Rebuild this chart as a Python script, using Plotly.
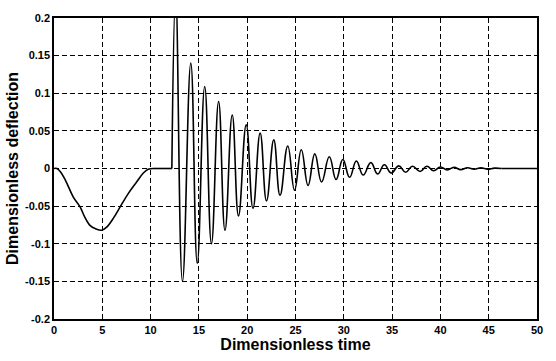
import plotly.graph_objects as go

# ---- data ----
# slow dip (0 .. 10.3)
t_dip = [0, 0.3, 0.7, 1.2, 2.0, 2.7, 3.2, 3.75, 4.3, 4.95, 5.45, 6.15, 6.85, 7.7, 8.55, 9.25, 9.75, 10.3]
y_dip = [0, 0, -0.005, -0.016, -0.038, -0.051, -0.065, -0.076, -0.080, -0.082, -0.078, -0.066, -0.051,
         -0.033, -0.018, -0.006, -0.001, 0]

# flat rest between the two events
t_flat = [10.3, 12.2]
y_flat = [0, 0]

# decaying oscillation (peaks / troughs)
t_osc = [12.2, 12.6, 13.3, 14.16, 14.83, 15.6, 16.3, 17.04, 17.7, 18.45, 19.1, 19.9, 20.6, 21.34, 22.0,
         22.75, 23.4, 24.2, 24.9, 25.6, 26.3, 27.0, 27.7, 28.5, 29.2, 29.9, 30.6, 31.3, 32.0, 32.8,
         33.5, 34.2, 34.9, 35.7, 36.4, 37.1, 37.9, 38.6, 39.3, 40.0, 40.7, 41.4, 42.1, 42.8, 43.5,
         44.2, 44.9, 45.6, 46.3]
y_osc = [0, 0.23, -0.150, 0.140, -0.126, 0.109, -0.100, 0.089, -0.082, 0.071, -0.063, 0.058, -0.053,
         0.047, -0.043, 0.038, -0.0355, 0.030, -0.029, 0.025, -0.0225, 0.0195, -0.018, 0.0156, -0.0147,
         0.012, -0.0117, 0.010, -0.0087, 0.0078, -0.0074, 0.005, -0.006, 0.0035, -0.005, 0.003, -0.004,
         0.003, -0.003, 0.002, -0.002, 0.0015, -0.0015, 0.001, -0.001, 0.001, -0.001, 0.0005, 0]

t_tail = [46.3, 50]
y_tail = [0, 0]

x_ticks = [0, 5, 10, 15, 20, 25, 30, 35, 40, 45, 50]
x_tick_text = ["0", "5", "10", "15", "20", "25", "30", "35", "40", "45", "50"]
y_ticks = [-0.2, -0.15, -0.1, -0.05, 0, 0.05, 0.1, 0.15, 0.2]
y_tick_text = ["-0.2", "-0.15", "-0.1", "-0.05", "0", "0.05", "0.1", "0.15", "0.2"]

line_style = dict(color="black", width=1.6)

fig = go.Figure()
fig.add_trace(go.Scatter(x=t_dip, y=y_dip, mode="lines", line=dict(**line_style, shape="spline"), showlegend=False))
fig.add_trace(go.Scatter(x=t_flat, y=y_flat, mode="lines", line=line_style, showlegend=False))
fig.add_trace(go.Scatter(x=t_osc, y=y_osc, mode="lines", line=dict(**line_style, shape="spline", smoothing=1.3), showlegend=False))
fig.add_trace(go.Scatter(x=t_tail, y=y_tail, mode="lines", line=line_style, showlegend=False))

tick_font = dict(family="Liberation Sans, Arial, sans-serif", size=11, color="black", weight="bold")
title_font = dict(family="Liberation Sans, Arial, sans-serif", size=16, color="black", weight="bold")

axis_common = dict(
    showgrid=True, gridcolor="black", gridwidth=1, griddash="5px,3px",
    showline=True, mirror=True, linecolor="black", linewidth=1.5,
    zeroline=False, ticks="inside", ticklen=4, tickcolor="black",
    tickfont=tick_font,
)

fig.update_xaxes(range=[0, 50], tickvals=x_ticks, ticktext=x_tick_text,
                 title=dict(text="Dimensionless time", font=title_font, standoff=2), **axis_common)
fig.update_yaxes(range=[-0.2, 0.2], tickvals=y_ticks, ticktext=y_tick_text,
                 title=dict(text="Dimensionless deflection", font=title_font, standoff=2), **axis_common)

fig.update_layout(
    width=556, height=361,
    margin=dict(l=52, r=19, t=12, b=41),
    paper_bgcolor="white", plot_bgcolor="white",
)

fig.write_html("out.html")
